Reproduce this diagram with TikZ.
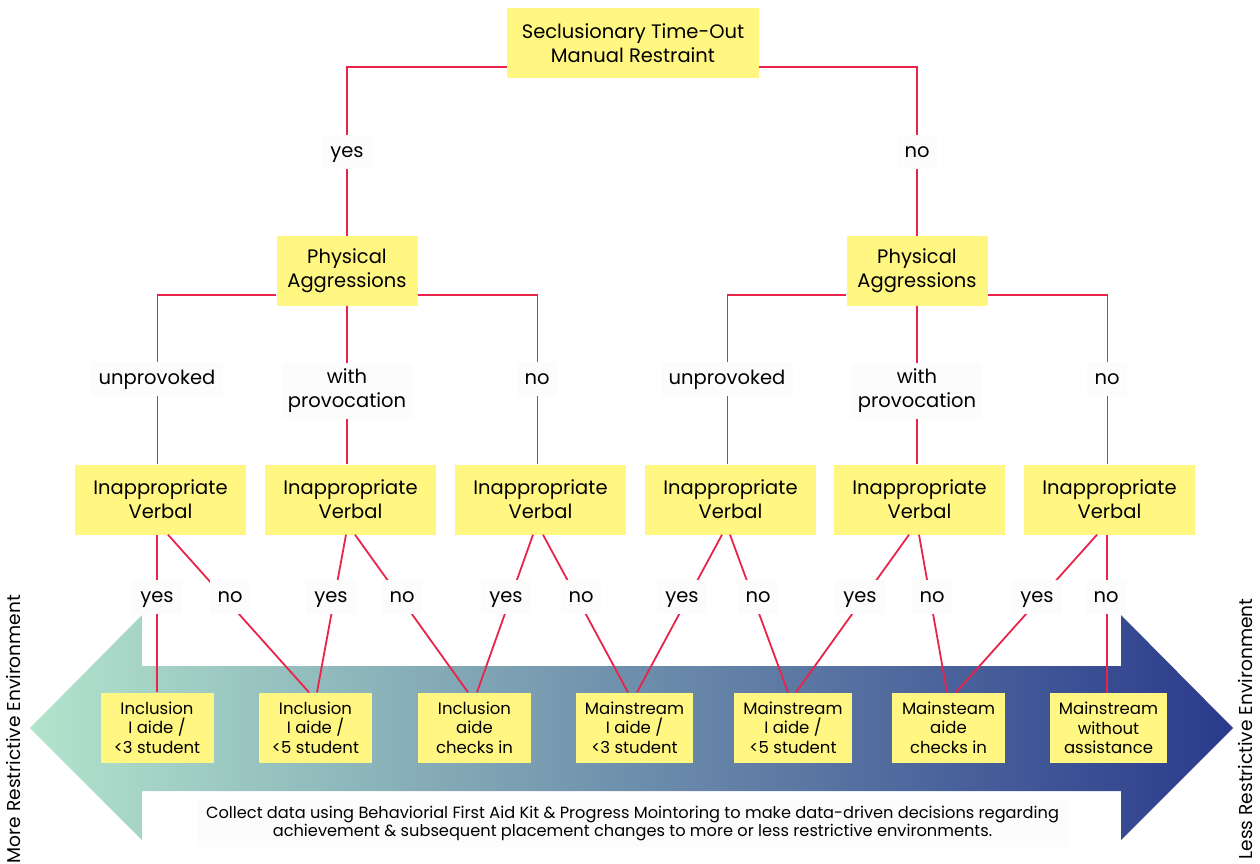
\documentclass[tikz,border=0pt]{standalone}
\usepackage{fontspec}
\setmainfont{Poppins}
\definecolor{ylw}{RGB}{255,247,130}
\definecolor{lnc}{RGB}{232,36,72}
\definecolor{lblbg}{RGB}{252,252,252}
\definecolor{arrL}{RGB}{178,228,204}
\definecolor{arrM}{RGB}{104,128,176}
\definecolor{arrR}{RGB}{42,58,140}
\begin{document}
\begin{tikzpicture}[x=1pt,y=-1pt,
  box/.style={fill=ylw, inner sep=0pt, align=center, minimum height=70pt,
    font=\fontsize{19.5}{24}\selectfont},
  sbox/.style={fill=ylw, inner sep=0pt, align=center, minimum height=70pt,
    font=\fontsize{16.5}{19.5}\selectfont},
  lbl/.style={fill=lblbg, inner xsep=8pt, inner ysep=8pt, align=center,
    text height=14pt, text depth=4pt,
    font=\fontsize{19.5}{24}\selectfont},
  lbltwo/.style={fill=lblbg, inner xsep=6pt, inner ysep=6pt, align=center,
    font=\fontsize{19.5}{24}\selectfont},
  conn/.style={draw=lnc, line width=1.8pt},
  side/.style={rotate=90, font=\fontsize{18.6}{22}\selectfont}]
\useasboundingbox (0,0) rectangle (1260,863);

% big gradient arrow
\shade[left color=arrL, middle color=arrM, right color=arrR]
  (30,728) -- (142,615) -- (142,666) -- (1121,666) -- (1121,615) -- (1233,728)
  -- (1121,840) -- (1121,791) -- (142,791) -- (142,840) -- cycle;

% boxes
\node[box, minimum width=252pt] (top) at (633,43) {Seclusionary Time-Out\\Manual Restraint};
\node[box, minimum width=141pt] (pa1) at (347,271) {Physical\\Aggressions};
\node[box, minimum width=141pt] (pa2) at (917,271) {Physical\\Aggressions};

\node[box, minimum width=171pt] (iv1) at (160.5,499.5) {Inappropriate\\Verbal};
\node[box, minimum width=171pt] (iv2) at (350.5,499.5) {Inappropriate\\Verbal};
\node[box, minimum width=171pt] (iv3) at (540.5,499.5) {Inappropriate\\Verbal};
\node[box, minimum width=171pt] (iv4) at (730.5,499.5) {Inappropriate\\Verbal};
\node[box, minimum width=171pt] (iv5) at (919.5,499.5) {Inappropriate\\Verbal};
\node[box, minimum width=171pt] (iv6) at (1109.5,499.5) {Inappropriate\\Verbal};

\node[sbox, minimum width=113pt] (b1) at (157,727.5) {Inclusion\\I aide /\\<3 student};
\node[sbox, minimum width=113pt] (b2) at (315.5,727.5) {Inclusion\\I aide /\\<5 student};
\node[sbox, minimum width=113pt] (b3) at (474.5,727.5) {Inclusion\\aide\\checks in};
\node[sbox, minimum width=117pt] (b4) at (634.5,727.5) {Mainstream\\I aide /\\<3 student};
\node[sbox, minimum width=118pt] (b5) at (793,727.5) {Mainstream\\I aide /\\<5 student};
\node[sbox, minimum width=113pt] (b6) at (948.5,727.5) {Mainsteam\\aide\\checks in};
\node[sbox, minimum width=117pt] (b7) at (1108.5,728) {Mainstream\\without\\assistance};

% connectors: level 1
\draw[conn] ([yshift=11pt]top.south west) -| (pa1.north);
\draw[conn] ([yshift=11pt]top.south east) -| (pa2.north);

% level 2
\draw[conn] ([yshift=11pt]pa1.south west) -| ([xshift=-3pt]iv1.north);
\draw[conn] (pa1.south) -- (pa1.south |- iv2.north);
\draw[conn] ([yshift=11pt]pa1.south east) -| ([xshift=-3pt]iv3.north);
\draw[conn] ([yshift=11pt]pa2.south west) -| ([xshift=-3pt]iv4.north);
\draw[conn] (pa2.south) -- (pa2.south |- iv5.north);
\draw[conn] ([yshift=11pt]pa2.south east) -| ([xshift=-2pt]iv6.north);

% level 3
\draw[conn] (b1.north |- iv1.south) -- (b1.north);
\draw[conn] ([xshift=7.5pt]iv1.south) -- ([xshift=-6.5pt]b2.north);
\draw[conn] ([xshift=-4.5pt]iv2.south) -- ([xshift=1.5pt]b2.north);
\draw[conn] ([xshift=4.5pt]iv2.south) -- ([xshift=-6.5pt]b3.north);
\draw[conn] ([xshift=-7.5pt]iv3.south) -- ([xshift=2.5pt]b3.north);
\draw[conn] ([xshift=2.5pt]iv3.south) -- ([xshift=-6.5pt]b4.north);
\draw[conn] ([xshift=-8.5pt]iv4.south) -- ([xshift=2.5pt]b4.north);
\draw[conn] ([xshift=-0.5pt]iv4.south) -- ([xshift=-5pt]b5.north);
\draw[conn] ([xshift=-10.5pt]iv5.south) -- ([xshift=3pt]b5.north);
\draw[conn] ([xshift=-0.5pt]iv5.south) -- ([xshift=-1.5pt]b6.north);
\draw[conn] ([xshift=-12.5pt]iv6.south) -- ([xshift=7.5pt]b6.north);
\draw[conn] ([xshift=-1.5pt]b7.north |- iv6.south) -- ([xshift=-1.5pt]b7.north);

% labels
\node[lbl] (l1y) at (347,152) {yes};
\node[lbl] (l1n) at (917,152) {no};

\node[lbl] (l2a) at (157,379) {unprovoked};
\node[lbltwo] (l2b) at (347,391) {with\\provocation};
\node[lbl] (l2c) at (537,379) {no};
\node[lbl] (l2d) at (727,379) {unprovoked};
\node[lbltwo] (l2e) at (917,391) {with\\provocation};
\node[lbl] (l2f) at (1107,379) {no};

\node[lbl] (l3a) at (157,597) {yes};
\node[lbl] (l3b) at (230,597) {no};
\node[lbl] (l3c) at (331,597) {yes};
\node[lbl] (l3d) at (402,597) {no};
\node[lbl] (l3e) at (506,597) {yes};
\node[lbl] (l3f) at (581,597) {no};
\node[lbl] (l3g) at (682,597) {yes};
\node[lbl] (l3h) at (758,597) {no};
\node[lbl] (l3i) at (860,597) {yes};
\node[lbl] (l3j) at (932,597) {no};
\node[lbl] (l3k) at (1037,597) {yes};
\node[lbl] (l3l) at (1106,597) {no};

% note
\node[fill=lblbg, minimum width=871pt, minimum height=47pt, inner sep=0pt, align=center,
  font=\fontsize{16.2}{18.5}\selectfont] (note) at (632.5,823.5)
  {Collect data using Behaviorial First Aid Kit \& Progress Mointoring to make data-driven decisions regarding\\
   achievement \& subsequent placement changes to more or less restrictive environments.};

% side texts
\node[side] (more) at (14,729) {More Restrictive Environment};
\node[side] (less) at (1245,729) {Less Restrictive Environment};
\end{tikzpicture}
\end{document}
